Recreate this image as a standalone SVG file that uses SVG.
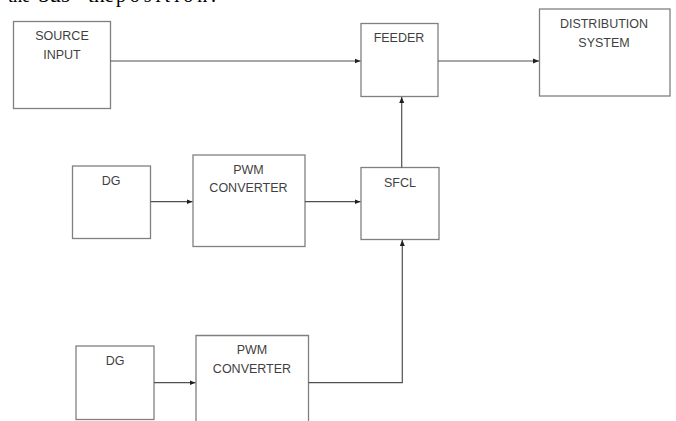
<svg xmlns="http://www.w3.org/2000/svg" width="676" height="421" viewBox="0 0 676 421">
<defs>
<style>
.box{fill:#fff;stroke:#808080;stroke-width:1.3}
.lbl{font-family:"Liberation Sans",Arial,sans-serif;font-size:12.5px;fill:#3f3f3f;text-anchor:middle}
.con{fill:none;stroke:#505050;stroke-width:1.2}
.top{font-family:"Liberation Serif","Times New Roman",serif;font-size:20px;fill:#000}
</style>
<marker id="ah" viewBox="0 0 6 6" refX="6" refY="3" markerWidth="6" markerHeight="6" markerUnits="userSpaceOnUse" orient="auto">
<path d="M0,0.5 L6,3 L0,5.5 Z" fill="#202020"/>
</marker>
</defs>
<rect width="676" height="421" fill="#fff"/>
<text class="top" y="2"><tspan x="8" textLength="22" lengthAdjust="spacingAndGlyphs">the</tspan><tspan x="38" textLength="32" lengthAdjust="spacingAndGlyphs">bus</tspan><tspan x="88" textLength="26" lengthAdjust="spacingAndGlyphs">the</tspan><tspan x="116" textLength="100" lengthAdjust="spacing">position.</tspan></text>
<g id="source">
<rect class="box" x="13.5" y="21.5" width="97" height="87"/>
<text class="lbl" x="62" y="40">SOURCE</text>
<text class="lbl" x="62" y="59">INPUT</text>
</g>
<g id="feeder">
<rect class="box" x="361" y="23.5" width="77" height="73"/>
<text class="lbl" x="399" y="41.5">FEEDER</text>
</g>
<g id="distribution">
<rect class="box" x="539.5" y="9" width="130.5" height="87"/>
<text class="lbl" x="604" y="28">DISTRIBUTION</text>
<text class="lbl" x="604" y="46.5">SYSTEM</text>
</g>
<g id="dg1">
<rect class="box" x="72.5" y="166" width="78" height="72.5"/>
<text class="lbl" x="111" y="185">DG</text>
</g>
<g id="pwm1">
<rect class="box" x="193" y="155" width="112" height="91.5"/>
<text class="lbl" x="248.5" y="174.3">PWM</text>
<text class="lbl" x="248.5" y="192.3">CONVERTER</text>
</g>
<g id="sfcl">
<rect class="box" x="361" y="167.5" width="78" height="72"/>
<text class="lbl" x="400" y="186.7">SFCL</text>
</g>
<g id="dg2">
<rect class="box" x="76" y="346" width="78" height="73.5"/>
<text class="lbl" x="115" y="365">DG</text>
</g>
<g id="pwm2">
<path class="box" d="M196,425 V335.5 H308.5 V425"/>
<text class="lbl" x="252" y="354.3">PWM</text>
<text class="lbl" x="252" y="373.3">CONVERTER</text>
</g>
<g id="connectors">
<path class="con" d="M110.5,61 H360.5" marker-end="url(#ah)"/>
<path class="con" d="M438,61 H539" marker-end="url(#ah)"/>
<path class="con" d="M401.7,167.5 V97" marker-end="url(#ah)"/>
<path class="con" d="M150.5,201.7 H192.5" marker-end="url(#ah)"/>
<path class="con" d="M305,201.7 H360.5" marker-end="url(#ah)"/>
<path class="con" d="M154,382.7 H195.5" marker-end="url(#ah)"/>
<path class="con" d="M308.5,382.7 H402.3 V240" marker-end="url(#ah)"/>
</g>
</svg>
